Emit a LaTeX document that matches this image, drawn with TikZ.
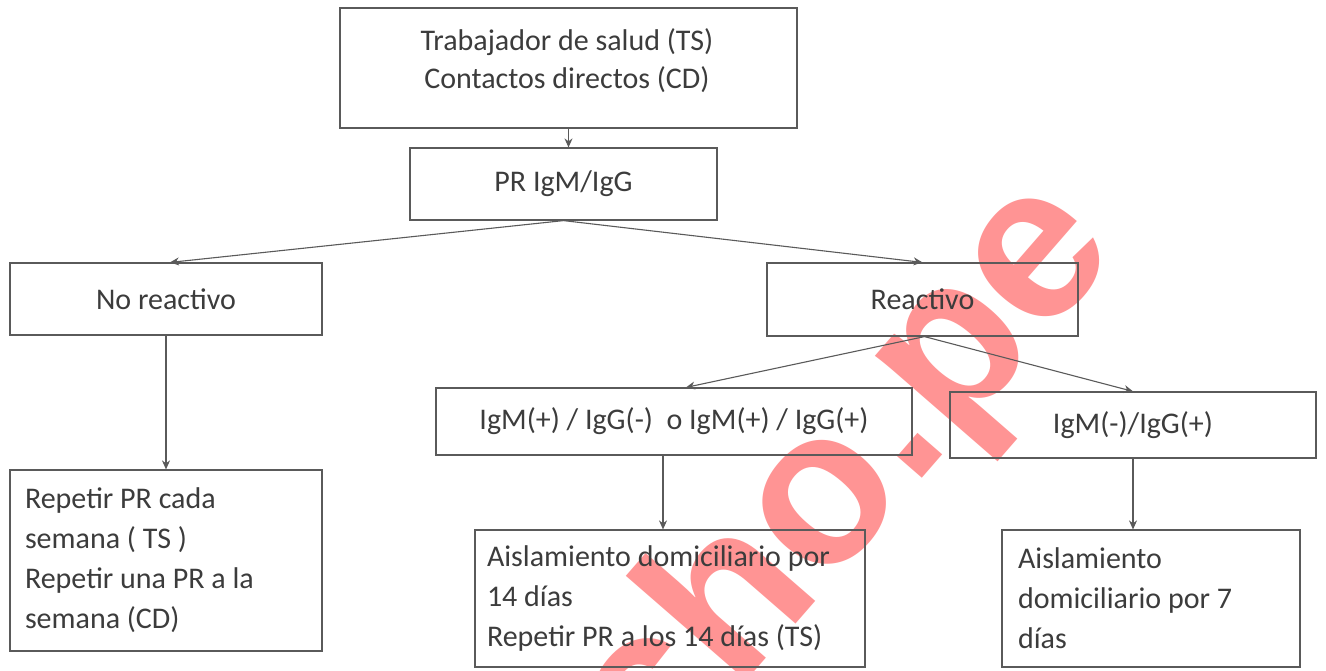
\documentclass[tikz,border=0pt]{standalone}
\usepackage{fontspec}
\setmainfont{Carlito}
\newfontfamily\marcafont{Liberation Sans}
\usetikzlibrary{arrows.meta}
\definecolor{linea}{HTML}{5A5A5A}
\definecolor{letra}{HTML}{3C3C3C}
\definecolor{marca}{HTML}{FF9494}
\tikzset{
  caja/.style={draw=linea, line width=1.2pt, text=letra, font=\fontsize{30}{40}\selectfont, inner sep=0pt},
  texto/.style={text=letra, font=\fontsize{30}{38}\selectfont, align=center, inner sep=0pt},
  flecha/.style={draw=linea, line width=1.1pt, -{Stealth[length=9pt,width=8pt]}}
}
\begin{document}
\begin{tikzpicture}[x=1pt,y=-1pt]
\useasboundingbox[fill=white] (0,0) rectangle (1326,670);
% marca de agua
\node[rotate=49, text=marca, font=\marcafont\bfseries\fontsize{220}{220}\selectfont] (marca) at (846,480) {cho.pe};
% cajas
\node[caja, minimum width=457, minimum height=120] (ts) at (568.5,68) {};
\node[texto] (tstxt) at (567,61) {Trabajador de salud (TS)\\Contactos directos (CD)};
\node[caja, minimum width=307, minimum height=72] (pr) at (563.5,184) {PR IgM/IgG};
\node[caja, minimum width=312, minimum height=72] (nr) at (166,299) {No reactivo};
\node[caja, minimum width=311, minimum height=73] (re) at (922.5,299.5) {Reactivo};
\node[caja, minimum width=476, minimum height=67] (pos) at (674,421.5) {IgM(+) / IgG(-)\ \ o IgM(+) / IgG(+)};
\node[caja, minimum width=366, minimum height=66] (neg) at (1133,425) {IgM(-)/IgG(+)};
\node[caja, inner xsep=15pt, text width=282, minimum height=181, align=flush left] (rep) at (166,560.5)
  {Repetir PR cada\\semana ( TS )\\Repetir una PR a la\\semana (CD)};
\node[caja, inner xsep=12pt, text width=366, minimum height=137, align=flush left] (a14) at (670,598.5)
  {Aislamiento domiciliario por\\14 días\\Repetir PR a los 14 días (TS)};
\node[caja, inner xsep=16pt, text width=266, minimum height=137, align=flush left] (a7) at (1151,598.5)
  {Aislamiento\\domiciliario por 7\\días};
% flechas
\draw[flecha] (ts.south) -- (ts.south |- pr.north);
\draw[flecha] (pr.south) -- ([xshift=4]nr.north);
\draw[flecha] (pr.south) -- (re.north);
\draw[flecha] ([xshift=2]re.south) -- ([xshift=12]pos.north);
\draw[flecha] ([xshift=2]re.south) -- (neg.north);
\draw[flecha] (nr.south) -- (rep.north);
\draw[flecha] ([xshift=-11]pos.south) -- ([xshift=-11]pos.south |- a14.north);
\draw[flecha] (neg.south) -- (neg.south |- a7.north);
\end{tikzpicture}
\end{document}
